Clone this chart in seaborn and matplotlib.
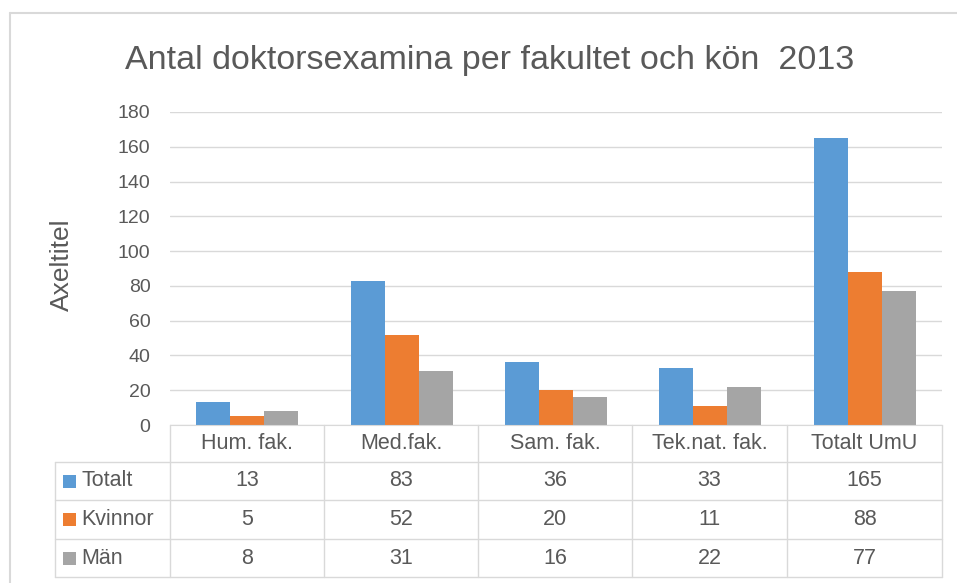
import matplotlib.pyplot as plt
import seaborn as sns
import pandas as pd

# Data
fakulteter = ["Hum. fak.", "Med.fak.", "Sam. fak.", "Tek.nat. fak.", "Totalt UmU"]
serier = ["Totalt", "Kvinnor", "Män"]
totalt = [13, 83, 36, 33, 165]
kvinnor = [5, 52, 20, 11, 88]
man = [8, 31, 16, 22, 77]
yticks = [0, 20, 40, 60, 80, 100, 120, 140, 160, 180]

palette = {"Totalt": "#5B9BD5", "Kvinnor": "#ED7D31", "Män": "#A5A5A5"}
textfarg = "#595959"
linjefarg = "#D9D9D9"

df = pd.DataFrame({
    "fakultet": fakulteter * 3,
    "serie": ["Totalt"] * 5 + ["Kvinnor"] * 5 + ["Män"] * 5,
    "antal": totalt + kvinnor + man,
})

sns.set_style("white")
plt.rcParams["font.family"] = ["Liberation Sans", "DejaVu Sans"]

W, H = 957, 583
fig = plt.figure(figsize=(W / 100, H / 100), dpi=100)

# plot area in pixels
x0, x1, ytop, ybot = 170, 942, 112, 425
ax = fig.add_axes([x0 / W, 1 - ybot / H, (x1 - x0) / W, (ybot - ytop) / H])

sns.barplot(
    data=df, x="fakultet", y="antal", hue="serie",
    order=fakulteter, hue_order=serier, palette=palette,
    width=0.66, gap=0, dodge=True, saturation=1, ax=ax, legend=False,
)
for p in ax.patches:
    p.set_edgecolor("none")

ax.set_ylim(0, 180)
ax.set_xlim(-0.5, len(fakulteter) - 0.5)
ax.set_yticks(yticks)
ax.set_yticklabels([str(v) for v in yticks], fontsize=14, color=textfarg)
ax.tick_params(axis="y", length=0, pad=14)
ax.set_xticks([])
ax.set_xlabel("")
ax.set_ylabel("")
ax.yaxis.grid(True, color=linjefarg, linewidth=1)
ax.set_axisbelow(True)
for s in ["top", "right", "left"]:
    ax.spines[s].set_visible(False)
ax.spines["bottom"].set_color(linjefarg)

# overlay in pixel coordinates for title, frame and data table
ov = fig.add_axes([0, 0, 1, 1], facecolor="none")
ov.set_xlim(0, W)
ov.set_ylim(H, 0)
ov.axis("off")

# outer chart frame
ov.plot([10, W], [13, 13], color=linjefarg, lw=1.5)
ov.plot([10, 10], [13, H], color=linjefarg, lw=1.5)

ov.text(490, 60, "Antal doktorsexamina per fakultet och kön  2013",
        ha="center", va="center", fontsize=24.5, color=textfarg)
ov.text(62, 265, "Axeltitel", rotation=90, ha="center", va="center",
        fontsize=19, color=textfarg)

# data table
kol = [170, 324, 478, 632, 787, 942]
rader = [425, 462, 500, 539, 577]
lw = 1
for xk in kol:
    ov.plot([xk, xk], [rader[0], rader[-1]], color=linjefarg, lw=lw)
ov.plot([55, 55], [rader[1], rader[-1]], color=linjefarg, lw=lw)
for yr in rader[1:]:
    ov.plot([55, kol[-1]], [yr, yr], color=linjefarg, lw=lw)

for j, namn in enumerate(fakulteter):
    xc = (kol[j] + kol[j + 1]) / 2
    ov.text(xc, (rader[0] + rader[1]) / 2, namn, ha="center", va="center",
            fontsize=15.5, color=textfarg)

varden = {"Totalt": totalt, "Kvinnor": kvinnor, "Män": man}
for i, serie in enumerate(serier):
    yc = (rader[i + 1] + rader[i + 2]) / 2
    ov.add_patch(plt.Rectangle((63, yc - 6.5), 13, 13, color=palette[serie], lw=0))
    ov.text(81, yc, serie, ha="left", va="center", fontsize=15.5, color=textfarg)
    for j, v in enumerate(varden[serie]):
        xc = (kol[j] + kol[j + 1]) / 2
        ov.text(xc, yc, str(v), ha="center", va="center", fontsize=15.5, color=textfarg)

fig.savefig("out.png", dpi=100)
